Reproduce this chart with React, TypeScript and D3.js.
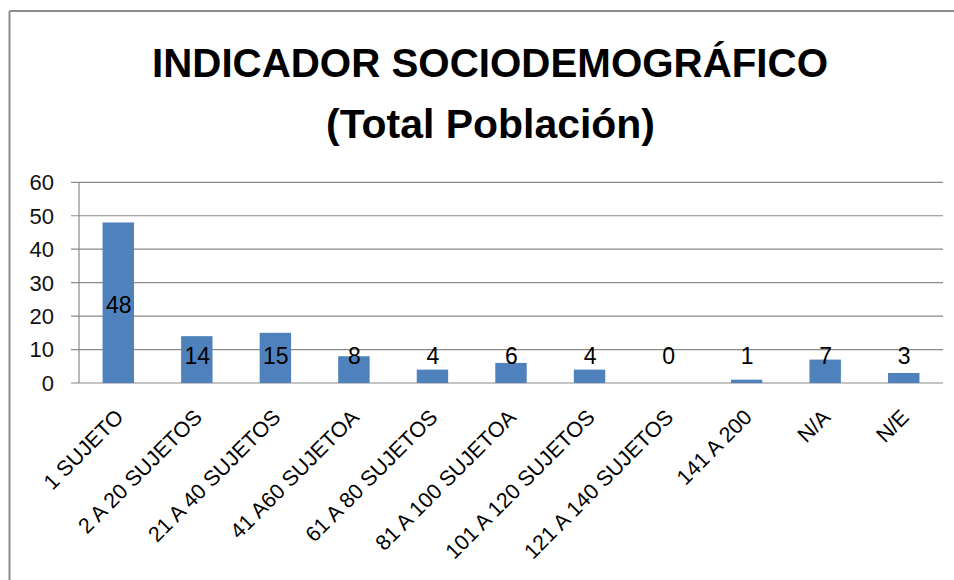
import React from "react";
import * as d3 from "d3";

const categories = [
  "1 SUJETO",
  "2 A 20 SUJETOS",
  "21 A 40 SUJETOS",
  "41 A60 SUJETOA",
  "61 A 80 SUJETOS",
  "81 A 100 SUJETOA",
  "101 A 120 SUJETOS",
  "121 A 140 SUJETOS",
  "141 A 200",
  "N/A",
  "N/E",
];
const values = [48, 14, 15, 8, 4, 6, 4, 0, 1, 7, 3];
const yTicks = [0, 10, 20, 30, 40, 50, 60];
const titleLines = ["INDICADOR SOCIODEMOGRÁFICO", "(Total Población)"];

const W = 954;
const H = 580;
const left = 79;
const right = 943;
const top = 182.3;
const bottom = 383;
const font = "'Liberation Sans', Arial, sans-serif";

export default function App() {
  const x = d3
    .scaleBand<string>()
    .domain(categories)
    .range([left, right])
    .paddingInner(0.6)
    .paddingOuter(0.3);
  const y = d3.scaleLinear().domain([0, 60]).range([bottom, top]);
  const gridColor = "#8a8a8a";

  return (
    <svg
      width={W}
      height={H}
      style={{ position: "absolute", left: 0, top: 0, background: "#fff" }}
      fontFamily={font}
    >
      <rect x={0} y={0} width={W} height={H} fill="#fff" />
      {/* chart border */}
      <line x1={9.5} y1={11} x2={W} y2={11} stroke="#8c8c8c" strokeWidth={2} />
      <line x1={9.5} y1={11} x2={9.5} y2={H} stroke="#8c8c8c" strokeWidth={2} />

      {/* title */}
      <text
        x={490}
        y={77}
        textAnchor="middle"
        fontSize={40}
        fontWeight="bold"
        textLength={676}
        lengthAdjust="spacingAndGlyphs"
      >
        {titleLines[0]}
      </text>
      <text
        x={490.5}
        y={138}
        textAnchor="middle"
        fontSize={40}
        fontWeight="bold"
        textLength={329}
        lengthAdjust="spacingAndGlyphs"
      >
        {titleLines[1]}
      </text>

      {/* gridlines + y ticks */}
      {yTicks.map((t) => (
        <g key={t}>
          <line
            x1={left - 8}
            x2={right}
            y1={y(t)}
            y2={y(t)}
            stroke={gridColor}
            strokeWidth={1.2}
          />
          <text
            x={54}
            y={y(t)}
            dy="0.36em"
            textAnchor="end"
            fontSize={22}
            fill="#111"
          >
            {t}
          </text>
        </g>
      ))}
      {/* y axis */}
      <line x1={left} x2={left} y1={top} y2={bottom} stroke={gridColor} strokeWidth={1.2} />

      {/* bars */}
      {categories.map((c, i) => (
        <rect
          key={c}
          x={x(c)}
          y={y(values[i])}
          width={x.bandwidth()}
          height={bottom - y(values[i])}
          fill="#4F81BD"
        />
      ))}

      {/* value labels */}
      {categories.map((c, i) => {
        const cx = (x(c) as number) + x.bandwidth() / 2;
        const cy = Math.min(y(values[i] / 2) + 2, 356);
        return (
          <text
            key={"v" + c}
            x={cx + 0.5}
            y={cy}
            dy="0.36em"
            textAnchor="middle"
            fontSize={23}
            fill="#000"
          >
            {values[i]}
          </text>
        );
      })}

      {/* x labels */}
      {categories.map((c) => {
        const cx = (x(c) as number) + x.bandwidth() / 2;
        return (
          <text
            key={"x" + c}
            transform={`translate(${cx + 6.5},${bottom + 35.5}) rotate(-45)`}
            textAnchor="end"
            fontSize={21.5}
            fill="#000"
          >
            {c}
          </text>
        );
      })}
    </svg>
  );
}
